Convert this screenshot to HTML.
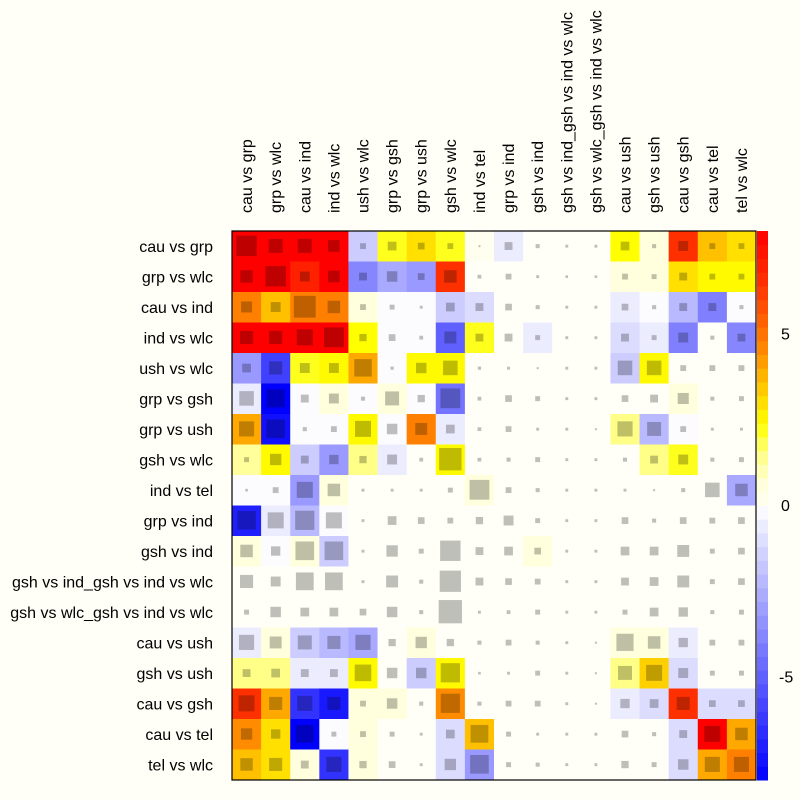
<!DOCTYPE html>
<html><head><meta charset="utf-8"><style>
body{margin:0;background:#fffff8;}
svg{display:block;font-family:"Liberation Sans",sans-serif;}
</style></head><body>
<svg id="c" width="800" height="800"></svg>
<script>
const labels=["cau vs grp","grp vs wlc","cau vs ind","ind vs wlc","ush vs wlc","grp vs gsh","grp vs ush","gsh vs wlc","ind vs tel","grp vs ind","gsh vs ind","gsh vs ind_gsh vs ind vs wlc","gsh vs wlc_gsh vs ind vs wlc","cau vs ush","gsh vs ush","cau vs gsh","cau vs tel","tel vs wlc"];
const values=[
[8,8,8,8,-1.6,2.2,3,2.2,0.1,-0.6,0,0,0,2.4,0.6,6.5,3.6,3],
[8,8,7,8,-3.8,-2.7,-3.2,6.5,0,0,0,0,0,0.6,0.6,3,2.5,2.5],
[4.7,3.6,4.7,4.7,0.6,-0.1,-0.1,-1.6,-1.1,0,0,0,0,-0.6,-0.1,-2.2,-4,-0.1],
[8,8,8,8,2.4,-0.1,-0.1,-5,2.2,0,-0.6,0,0,-1.1,-0.6,-4,0,-3.8],
[-3.2,-6,2.2,2.5,4,-0.1,2.5,2.5,0,0,0,0,0,-1.6,2.5,0,0,0],
[-0.6,-8,-0.1,0.6,-0.1,0.6,-0.1,-4.4,0,0,0,0,0,0,0,0.6,0,0],
[4,-7.5,-0.1,-0.1,2.5,-0.1,4.7,-0.6,0,0,0,0,0,1.5,-2.2,-0.1,0,0],
[1.3,2.5,-1.6,-3.2,1.5,-0.6,0,2.5,0,0,0,0,0,0,1.5,2.2,0,0],
[-0.1,-0.1,-3.2,0.6,0,0,0,0,0.6,0,0,0,0,0,0,0,0,-2.7],
[-7,-0.6,-2.2,-0.1,0,0,0,0,0,0,0,0,0,0,0,0,0,0],
[0.6,-0.1,0.6,-1.6,0,0,0,0,0,0,0.6,0,0,0,0,0,0,0],
[0,0,0,0,0,0,0,0,0,0,0,0,0,0,0,0,0,0],
[0,0,0,0,0,0,0,0,0,0,0,0,0,0,0,0,0,0],
[-0.6,0.6,-1.6,-2.2,-2.7,0,0.6,0,0,0,0,0,0,0.6,0.6,-0.6,0,0],
[1.5,1.5,-0.6,-0.6,2.5,0,-1.6,2.5,0,0,0,0,0,1.5,3.3,-1.1,0,0],
[6.5,4,-6.4,-7.2,0.6,0.6,0,4.5,0,0,0,0,0,-0.6,-1.1,6.5,-1.1,-1.1],
[4.5,3,-8,-0.1,0.6,0,0,-1.1,3.6,0,0,0,0,0,0,-1.1,8,4],
[3.6,3,0.6,-6.4,0.6,0,0,-1.1,-3.2,0,0,0,0,0,0,-1.1,4,4.7]];
const sizes=[
[0.7,0.48,0.48,0.4,0.2,0.3,0.23,0.2,0.07,0.27,0.14,0.1,0.1,0.3,0.14,0.34,0.2,0.2],
[0.43,0.7,0.34,0.4,0.27,0.36,0.23,0.43,0.13,0.2,0.1,0.09,0.09,0.2,0.17,0.27,0.2,0.2],
[0.38,0.34,0.75,0.43,0.2,0.17,0.1,0.3,0.27,0.23,0.14,0.1,0.1,0.23,0.14,0.27,0.27,0.14],
[0.45,0.45,0.55,0.68,0.25,0.23,0.13,0.41,0.27,0.27,0.17,0.1,0.1,0.27,0.17,0.34,0.14,0.27],
[0.3,0.45,0.34,0.34,0.6,0.11,0.36,0.5,0.11,0.1,0.07,0.1,0.1,0.5,0.5,0.2,0.2,0.2],
[0.5,0.62,0.27,0.34,0.14,0.48,0.25,0.68,0.13,0.23,0.17,0.1,0.1,0.23,0.27,0.38,0.14,0.17],
[0.52,0.64,0.14,0.2,0.55,0.36,0.41,0.3,0.13,0.2,0.1,0.1,0.07,0.52,0.48,0.2,0.1,0.1],
[0.17,0.39,0.27,0.32,0.25,0.34,0.13,0.77,0.13,0.14,0.17,0.1,0.1,0.14,0.27,0.34,0.14,0.17],
[0.09,0.2,0.55,0.43,0.1,0.1,0.1,0.17,0.68,0.2,0.14,0.1,0.1,0.1,0.07,0.14,0.5,0.43],
[0.64,0.55,0.66,0.55,0.1,0.3,0.23,0.2,0.25,0.34,0.17,0.1,0.1,0.23,0.14,0.23,0.2,0.23],
[0.43,0.32,0.64,0.64,0.1,0.39,0.17,0.7,0.27,0.3,0.23,0.1,0.1,0.3,0.3,0.41,0.17,0.23],
[0.45,0.34,0.61,0.61,0.1,0.41,0.14,0.73,0.27,0.23,0.2,0.1,0.1,0.27,0.3,0.41,0.17,0.23],
[0.17,0.36,0.3,0.3,0.23,0.36,0.14,0.8,0.1,0.13,0.17,0.1,0.1,0.17,0.3,0.32,0.14,0.17],
[0.52,0.41,0.48,0.45,0.52,0.25,0.39,0.25,0.14,0.2,0.14,0.1,0.07,0.59,0.43,0.32,0.2,0.2],
[0.27,0.3,0.27,0.27,0.57,0.36,0.36,0.66,0.09,0.1,0.17,0.1,0.07,0.48,0.55,0.34,0.17,0.17],
[0.55,0.45,0.52,0.45,0.2,0.36,0.14,0.66,0.14,0.2,0.2,0.1,0.07,0.32,0.3,0.45,0.23,0.23],
[0.39,0.32,0.61,0.17,0.2,0.17,0.1,0.3,0.61,0.17,0.1,0.1,0.1,0.23,0.14,0.27,0.55,0.43],
[0.43,0.45,0.27,0.52,0.25,0.23,0.1,0.39,0.64,0.17,0.14,0.1,0.1,0.25,0.17,0.36,0.52,0.52]];
const colorTicks=[5,0,-5];

const NS="http://www.w3.org/2000/svg";
const svg=document.getElementById('c');
const X0=232,Y0=231,X1=756,Y1=780,n=labels.length;
const cw=(X1-X0)/n,ch=(Y1-Y0)/n;
const VMIN=-8,VMAX=8;
function xPos(j){return X0+j*cw;}
function yPos(i){return Y0+i*ch;}
function vY(v){return Y1-(v-VMIN)/(VMAX-VMIN)*(Y1-Y0);}
const pos=[[0,[255,255,244]],[0.6,[255,255,221]],[1.5,[255,255,136]],[2.4,[255,255,0]],[3.6,[255,192,0]],[4.7,[255,128,0]],[6.5,[255,48,0]],[8,[255,0,0]]];
function color(v){
  if(Math.abs(v)<0.05)return '#fffff8';
  if(v<0){const t=Math.min(1,-v/8);const c=Math.round(255*(1-t));return `rgb(${c},${c},255)`;}
  v=Math.min(8,v);
  for(let k=1;k<pos.length;k++){if(v<=pos[k][0]){const a=pos[k-1],b=pos[k];const t=(v-a[0])/(b[0]-a[0]);
    const c=a[1].map((x,q)=>Math.round(x+(b[1][q]-x)*t));return `rgb(${c[0]},${c[1]},${c[2]})`;}}
  return 'red';
}
function mk(tag,attrs){const e=document.createElementNS(NS,tag);for(const k in attrs)e.setAttribute(k,attrs[k]);svg.appendChild(e);return e;}
for(let i=0;i<n;i++)for(let j=0;j<n;j++){
  const r=mk('rect',{x:xPos(j),y:yPos(i),width:cw+0.5,height:ch+0.5,fill:color(values[i][j])});
  
  
  const s=sizes[i][j];
  const q=mk('rect',{x:xPos(j)+cw*(1-s)/2,y:yPos(i)+ch*(1-s)/2,width:cw*s,height:cw*s,fill:'#000','fill-opacity':0.25});
  
  
}
const fr=mk('rect',{x:X0,y:Y0,width:X1-X0,height:Y1-Y0,fill:'none',stroke:'#000','stroke-width':1.2});


for(let i=0;i<n;i++){
  const t=mk('text',{x:213,y:yPos(i)+ch/2+5.5,'text-anchor':'end','font-size':16});
  t.textContent=labels[i];
  
  
  const cx=xPos(i)+cw/2+5.5;
  const u=mk('text',{x:cx,y:213,transform:`rotate(-90 ${cx} 213)`,'font-size':16});
  u.textContent=labels[i];
  
  
}
const steps=40;
for(let k=0;k<steps;k++){
  const v0=VMIN+k*(VMAX-VMIN)/steps,v1=v0+(VMAX-VMIN)/steps;
  const b=mk('rect',{x:757,y:vY(v1),width:11,height:vY(v0)-vY(v1)+0.5,fill:color((v0+v1)/2)});
  
  
}
colorTicks.forEach(v=>{
  const t=mk('text',{x:v<0?779:781,y:vY(v)+5.5,'font-size':16});
  t.textContent=String(v);
  
  
});
</script>
</body></html>
